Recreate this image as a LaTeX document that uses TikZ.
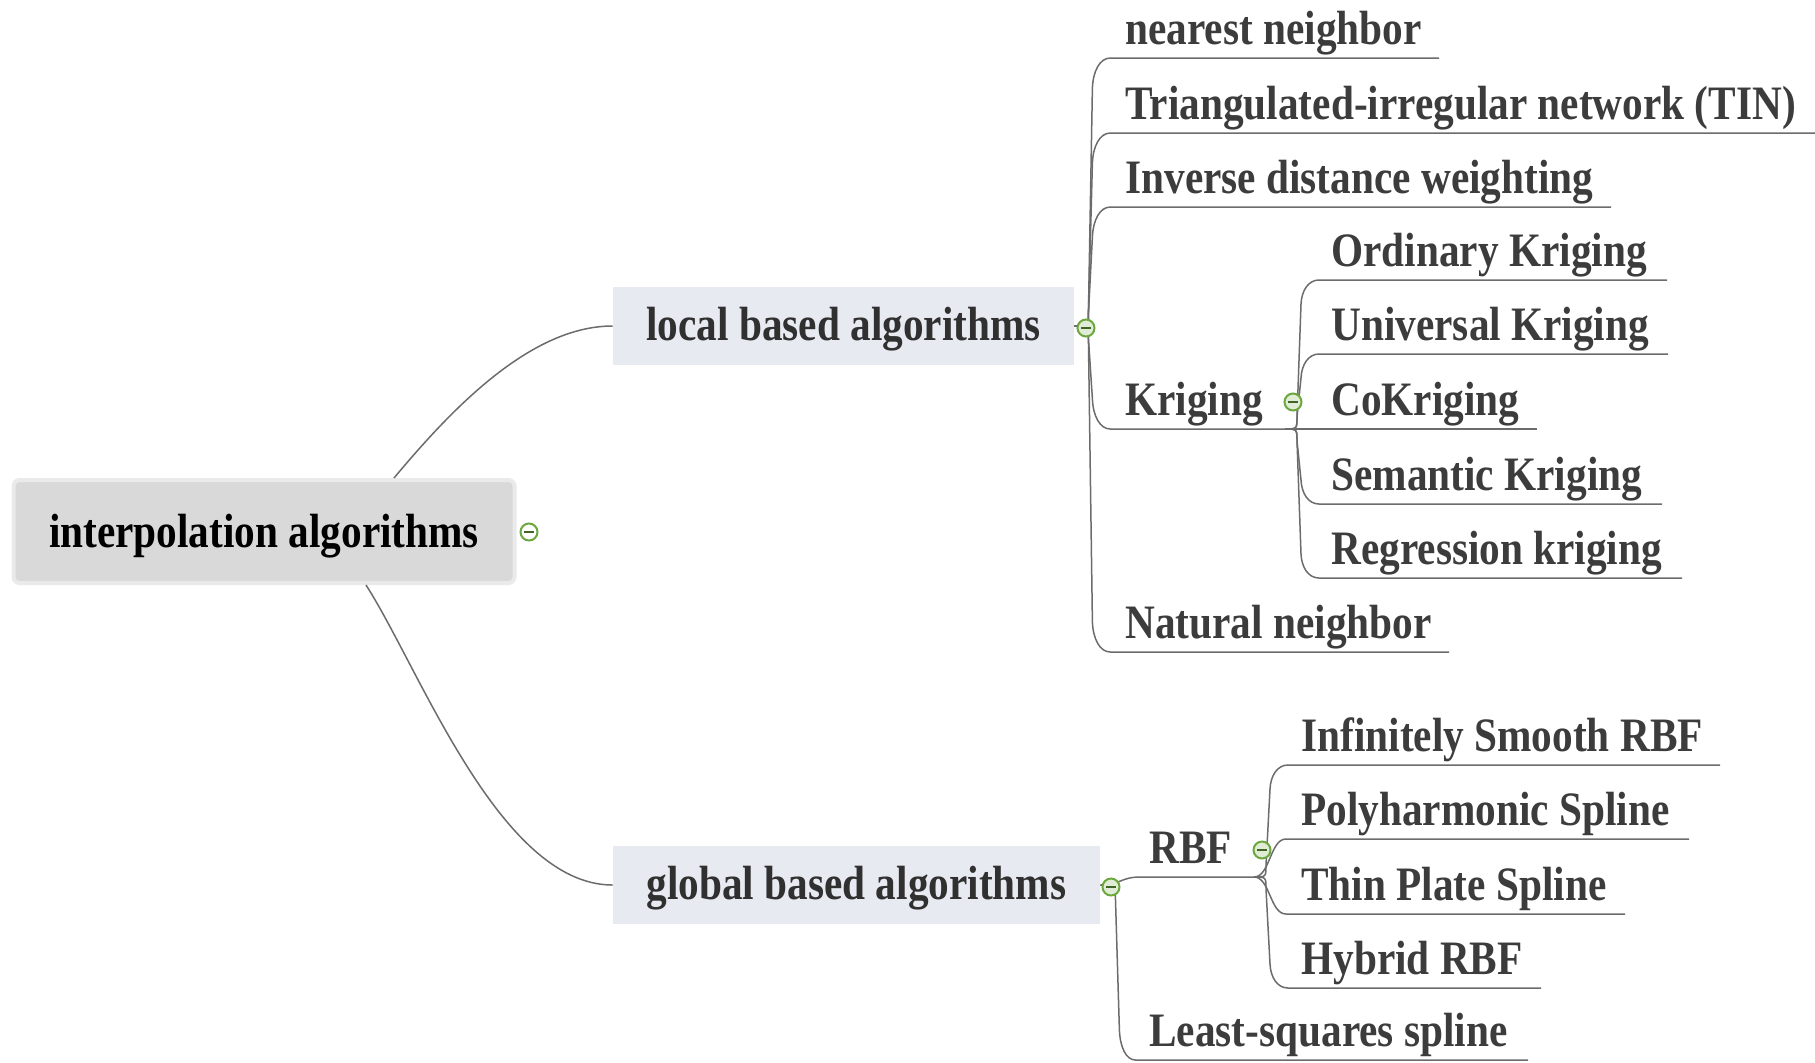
\documentclass[tikz,border=0pt]{standalone}
\usepackage{fontspec}
\usetikzlibrary{calc}
\newfontfamily\mapfont[FakeStretch=0.86]{Liberation Serif}

\definecolor{linkgray}{RGB}{108,108,108}
\definecolor{leafink}{RGB}{60,60,60}
\definecolor{topicink}{RGB}{48,48,48}
\definecolor{topicfill}{RGB}{232,234,241}
\definecolor{rootfill}{RGB}{217,217,217}
\definecolor{rootrim}{RGB}{234,234,234}
\definecolor{togglegreen}{RGB}{108,168,62}
\definecolor{togglefill}{RGB}{224,236,214}

\tikzset{
  mapfontset/.style={font=\mapfont\bfseries\fontsize{24}{28}\selectfont},
  rootbox/.style={mapfontset, rectangle, rounded corners=3pt, fill=rootfill,
    draw=rootrim, line width=2pt, minimum width=250.5pt, minimum height=51.5pt,
    inner sep=0pt, text height=19pt, text depth=3pt, text=black},
  topicbox/.style={mapfontset, rectangle, fill=topicfill, inner sep=0pt,
    minimum height=39pt, text height=18pt, text depth=4pt, text=topicink},
  leaf/.style={mapfontset, anchor=base west, inner sep=0pt, text=leafink},
  link/.style={draw=linkgray, line width=0.75pt, line join=round},
  toggle/.style={circle, draw=togglegreen, line width=1pt, fill=#1,
    minimum size=8.5pt, inner sep=0pt,
    path picture={\draw[togglegreen!60!black, line width=1pt]
      ([xshift=-2.4pt]path picture bounding box.center) --
      ([xshift=2.4pt]path picture bounding box.center);}},
  toggle/.default=togglefill,
  % branch: short bend out of the parent, slightly leaning run, soft turn into the underline
  % #1 offset of the run, #2 width of the turn, #3 height of the turn
  elbow/.style n args={3}{to path={
    let \p1=(\tikztostart), \p2=(\tikztotarget),
        \n1={ifthenelse(\y2>\y1,1,-1)} in
    .. controls (\x1+#1,\y1) .. (\x1+#1,\y1+\n1*6pt)
    -- (\x1+#1+2pt,\y2-\n1*#3)
    .. controls (\x1+#1+2.3pt,\y2-\n1*0.45*#3) and (\x1+#1+2pt+0.4*#2,\y2) .. (\x1+#1+2pt+#2,\y2)
    -- (\tikztotarget)}},
  % branch with a small height difference
  sbend/.style={to path={
    let \p1=(\tikztostart), \p2=(\tikztotarget) in
    .. controls (\x1+#1,\y1) and (\x1+#1,\y2) .. (\x1+2*#1,\y2)
    -- (\tikztotarget)}},
}

\begin{document}
\begin{tikzpicture}[x=0.5pt, y=-0.5pt]
\useasboundingbox (0,0) rectangle (1815,1062);

% ---- topics ----
\node[rootbox] (root) at (264,531.5) {interpolation algorithms};
\node[topicbox, minimum width=230.5pt] (local) at (843.5,326) {local based algorithms};
\node[topicbox, minimum width=243.5pt] (global) at (856.5,885) {global based algorithms};

% ---- local based children ----
\node[leaf] (nn)  at (1125,44)  {nearest neighbor};
\node[leaf] (tin) at (1125,119) {Triangulated-irregular network (TIN)};
\node[leaf] (idw) at (1125,193) {Inverse distance weighting};
\node[leaf] (kr)  at (1125,415) {Kriging};
\node[leaf] (nat) at (1125,638) {Natural neighbor};
\coordinate (nn-e)  at (1439,58);
\coordinate (tin-e) at (1815,133);
\coordinate (idw-e) at (1611,207);
\coordinate (kr-e)  at (1285,429);
\coordinate (nat-e) at (1449,652);

% ---- kriging children ----
\node[leaf] (ok) at (1331,266) {Ordinary Kriging};
\node[leaf] (uk) at (1331,340) {Universal Kriging};
\node[leaf] (ck) at (1331,415) {CoKriging};
\node[leaf] (sk) at (1331,490) {Semantic Kriging};
\node[leaf] (rk) at (1331,564) {Regression kriging};
\coordinate (ok-e) at (1667,280);
\coordinate (uk-e) at (1668,354);
\coordinate (ck-e) at (1537,429);
\coordinate (sk-e) at (1662,504);
\coordinate (rk-e) at (1682,578);

% ---- global based children ----
\node[leaf] (rbf) at (1149,863)  {RBF};
\node[leaf] (lss) at (1149,1046) {Least-squares spline};
\coordinate (rbf-e) at (1254,877);
\coordinate (lss-e) at (1528,1060);

% ---- RBF children ----
\node[leaf] (is) at (1301,751) {Infinitely Smooth RBF};
\node[leaf] (ph) at (1301,825) {Polyharmonic Spline};
\node[leaf] (tp) at (1301,900) {Thin Plate Spline};
\node[leaf] (hy) at (1301,974) {Hybrid RBF};
\coordinate (is-e) at (1720,765);
\coordinate (ph-e) at (1689,839);
\coordinate (tp-e) at (1625,914);
\coordinate (hy-e) at (1541,988);

% ---- connectors from the central topic ----
\draw[link] ([xshift=65pt]root.north) .. controls +(56,-67) and +(-83,0) .. (local.west);
\draw[link] ([xshift=51pt]root.south) .. controls +(54,84) and +(-113,0) .. (global.west);

% ---- local based branches ----
\foreach \c in {nn-e,tin-e,idw-e,kr-e,nat-e}
  \draw[link] (local.east) to[elbow={7pt}{9pt}{15pt}] (\c);

% ---- kriging branches ----
\foreach \c in {ok-e,uk-e,sk-e,rk-e}
  \draw[link] (kr-e) to[elbow={6pt}{9pt}{12pt}] (\c);
\draw[link] (kr-e) to[sbend=8pt] (ck-e);

% ---- global based branches ----
\draw[link] (global.east) to[sbend=10pt] (rbf-e);
\draw[link] (global.east) to[elbow={7.5pt}{8pt}{15pt}] (lss-e);

% ---- RBF branches ----
\foreach \c in {is-e,hy-e}
  \draw[link] (rbf-e) to[elbow={6pt}{9pt}{12pt}] (\c);
\foreach \c in {ph-e,tp-e}
  \draw[link] (rbf-e) to[sbend=8pt] (\c);

% ---- collapse toggles ----
\node[toggle=white] (t-root)   at (529,532) {};
\node[toggle]       (t-local)  at (1086,328) {};
\node[toggle]       (t-kr)     at (1293,402) {};
\node[toggle]       (t-global) at (1111,887) {};
\node[toggle]       (t-rbf)    at (1262,850) {};
\end{tikzpicture}
\end{document}
